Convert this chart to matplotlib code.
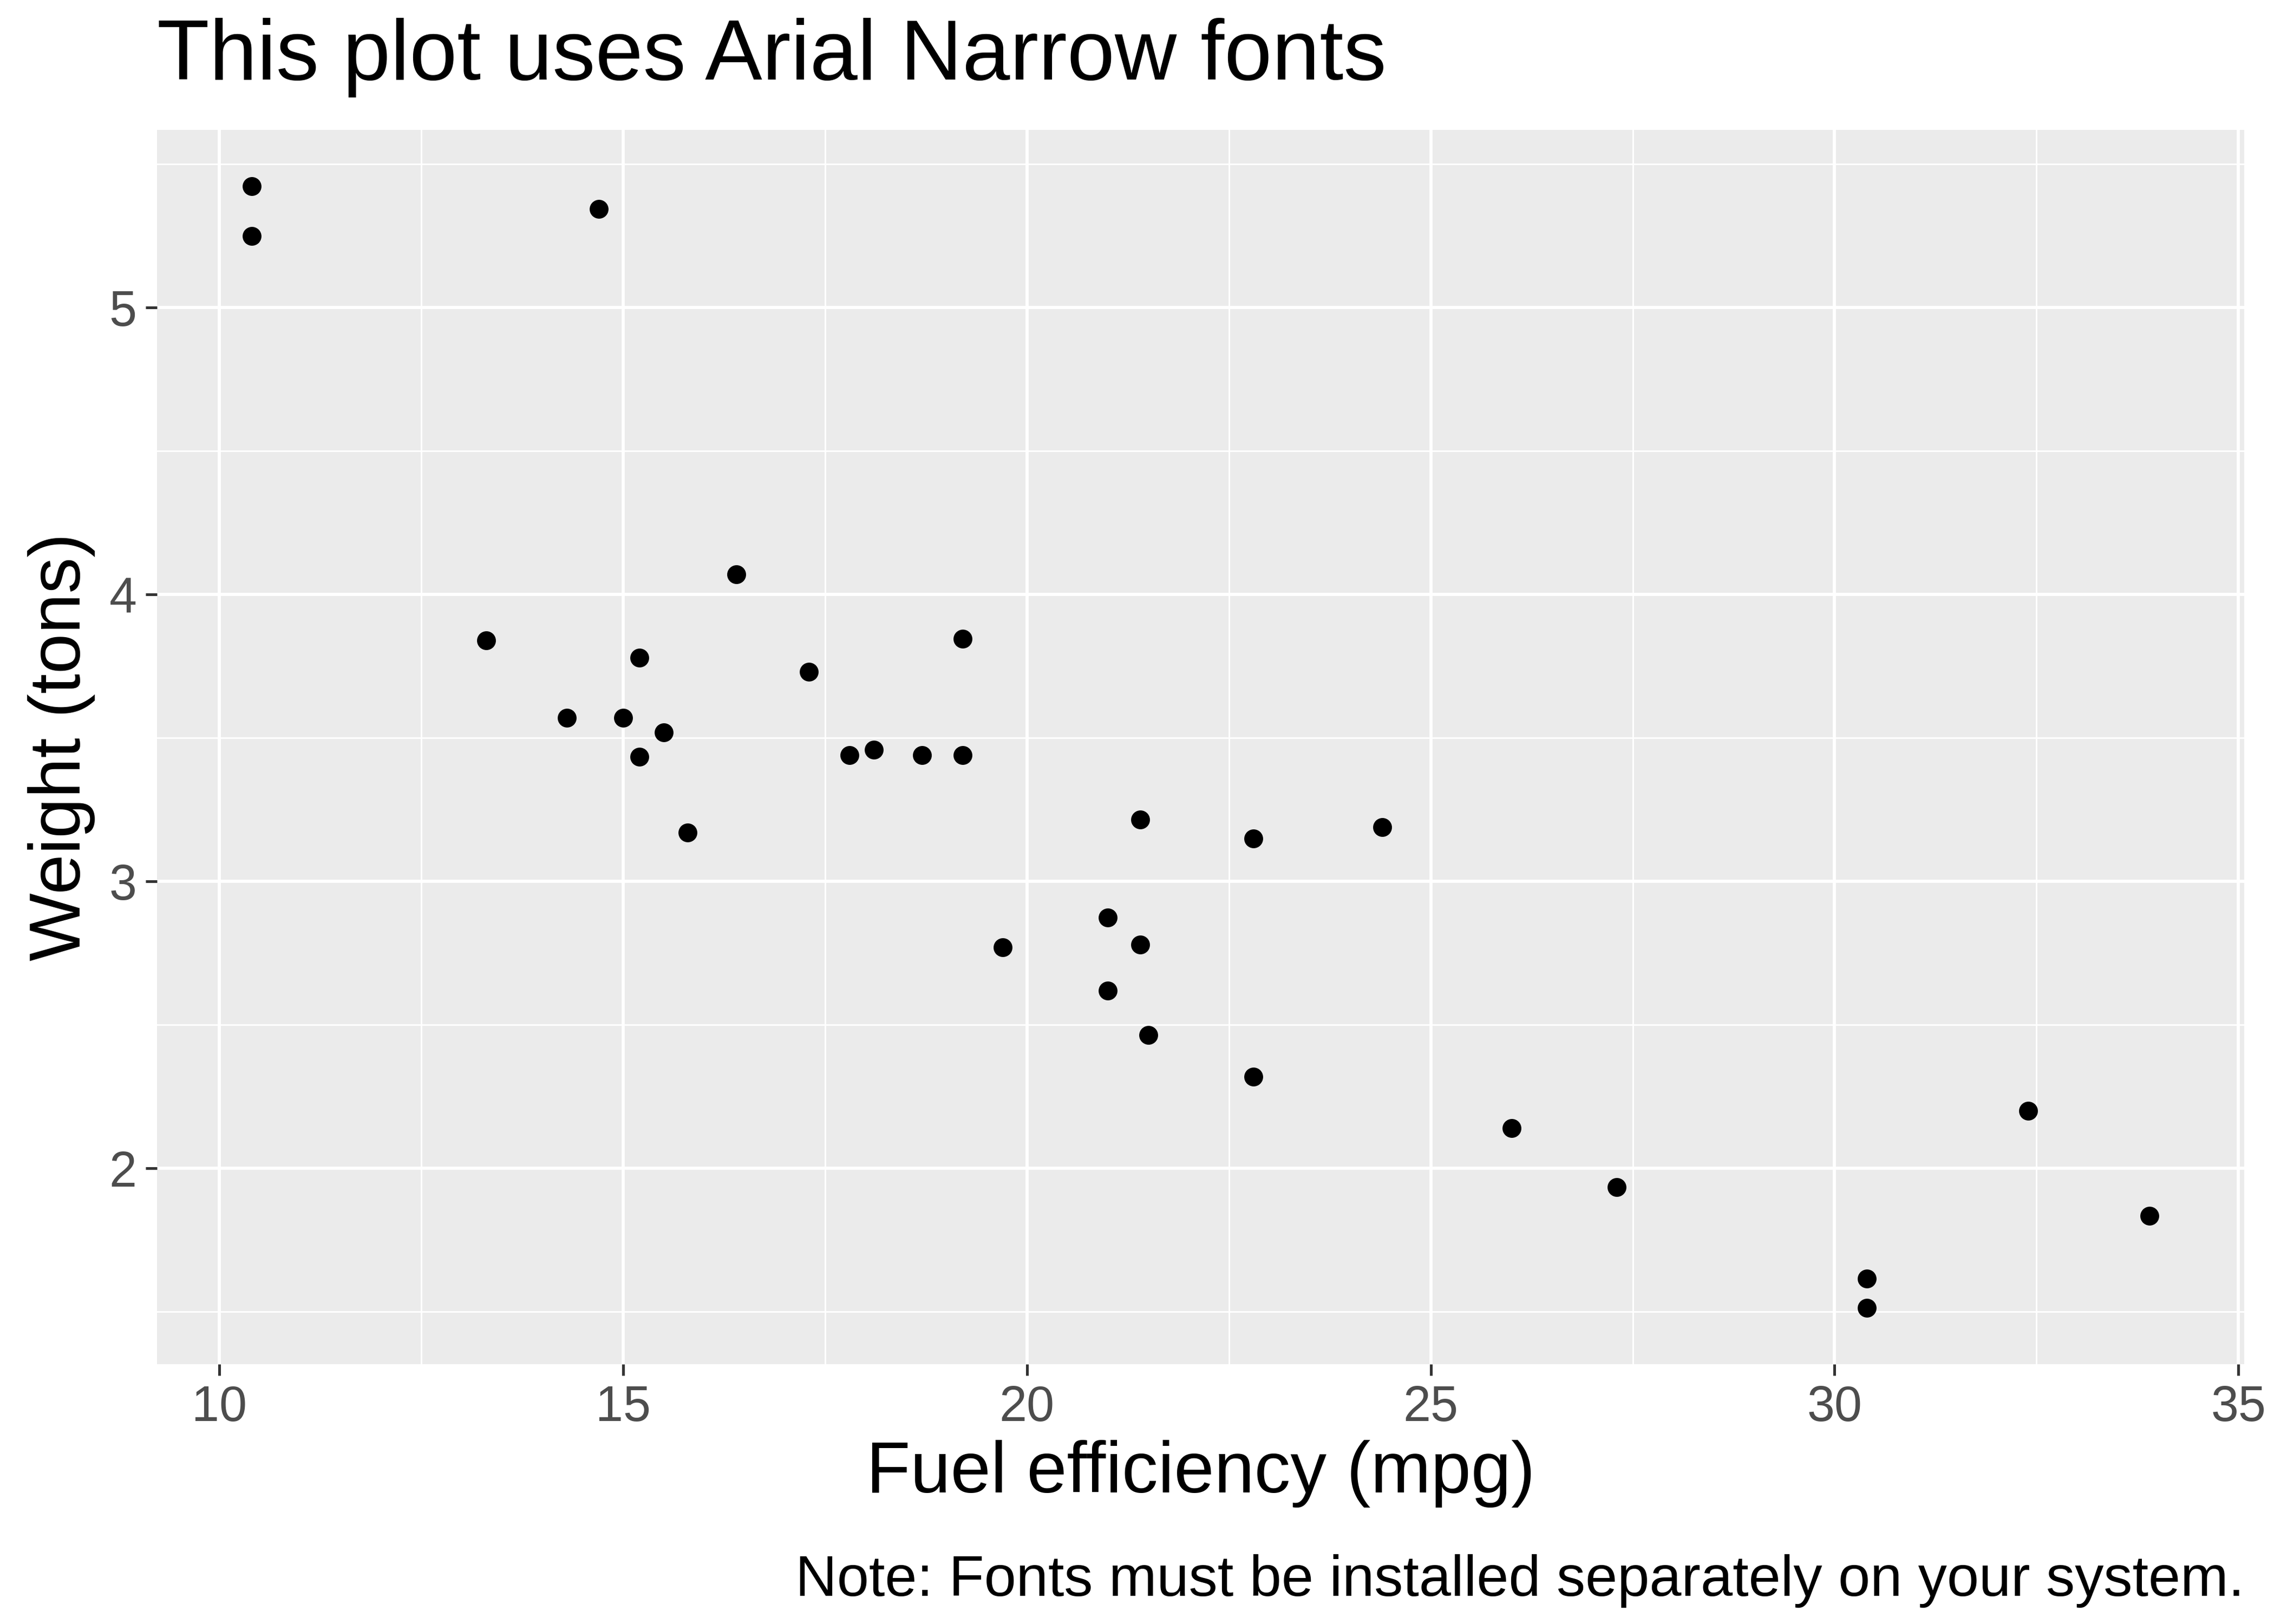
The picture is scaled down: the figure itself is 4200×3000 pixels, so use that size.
import matplotlib
matplotlib.use('Agg')
import matplotlib.pyplot as plt
from matplotlib.ticker import MultipleLocator

plt.rcParams['font.family'] = ['Liberation Sans', 'DejaVu Sans']

# mtcars
mpg = [21.0, 21.0, 22.8, 21.4, 18.7, 18.1, 14.3, 24.4, 22.8, 19.2, 17.8, 16.4,
       17.3, 15.2, 10.4, 10.4, 14.7, 32.4, 30.4, 33.9, 21.5, 15.5, 15.2, 13.3,
       19.2, 27.3, 26.0, 30.4, 15.8, 19.7, 15.0, 21.4]
wt = [2.620, 2.875, 2.320, 3.215, 3.440, 3.460, 3.570, 3.190, 3.150, 3.440,
      3.440, 4.070, 3.730, 3.780, 5.250, 5.424, 5.345, 2.200, 1.615, 1.835,
      2.465, 3.520, 3.435, 3.840, 3.845, 1.935, 2.140, 1.513, 3.170, 2.770,
      3.570, 2.780]

fig = plt.figure(figsize=(14, 10), dpi=300)
ax = fig.add_axes([0.069, 0.16, 0.918, 0.76])
ax.set_facecolor('#EBEBEB')
for s in ax.spines.values():
    s.set_visible(False)

ax.scatter(mpg, wt, s=70, color='black', zorder=3, linewidths=0)

xr = max(mpg) - min(mpg)
yr = max(wt) - min(wt)
ax.set_xlim(min(mpg) - 0.05 * xr, max(mpg) + 0.05 * xr)
ax.set_ylim(min(wt) - 0.05 * yr, max(wt) + 0.05 * yr)

ax.xaxis.set_major_locator(MultipleLocator(5))
ax.xaxis.set_minor_locator(MultipleLocator(2.5))
ax.yaxis.set_major_locator(MultipleLocator(1))
ax.yaxis.set_minor_locator(MultipleLocator(0.5))
ax.grid(which='major', color='white', linewidth=1.4)
ax.grid(which='minor', color='white', linewidth=0.7)
ax.set_axisbelow(True)
ax.tick_params(which='major', length=5, width=1.2, color='#333333',
               labelsize=22, labelcolor='#4D4D4D', pad=4)
ax.tick_params(which='minor', length=0)

ax.set_xlabel('Fuel efficiency (mpg)', fontsize=32, labelpad=4)
ax.set_ylabel('Weight (tons)', fontsize=32, labelpad=6)
fig.text(0.069, 0.94, 'This plot uses Arial Narrow fonts', fontsize=38,
         ha='left', va='bottom')
fig.text(0.987, 0.01, 'Note: Fonts must be installed separately on your system.',
         fontsize=25.5, ha='right', va='bottom')

fig.savefig('out.png', dpi=300, facecolor='white')
